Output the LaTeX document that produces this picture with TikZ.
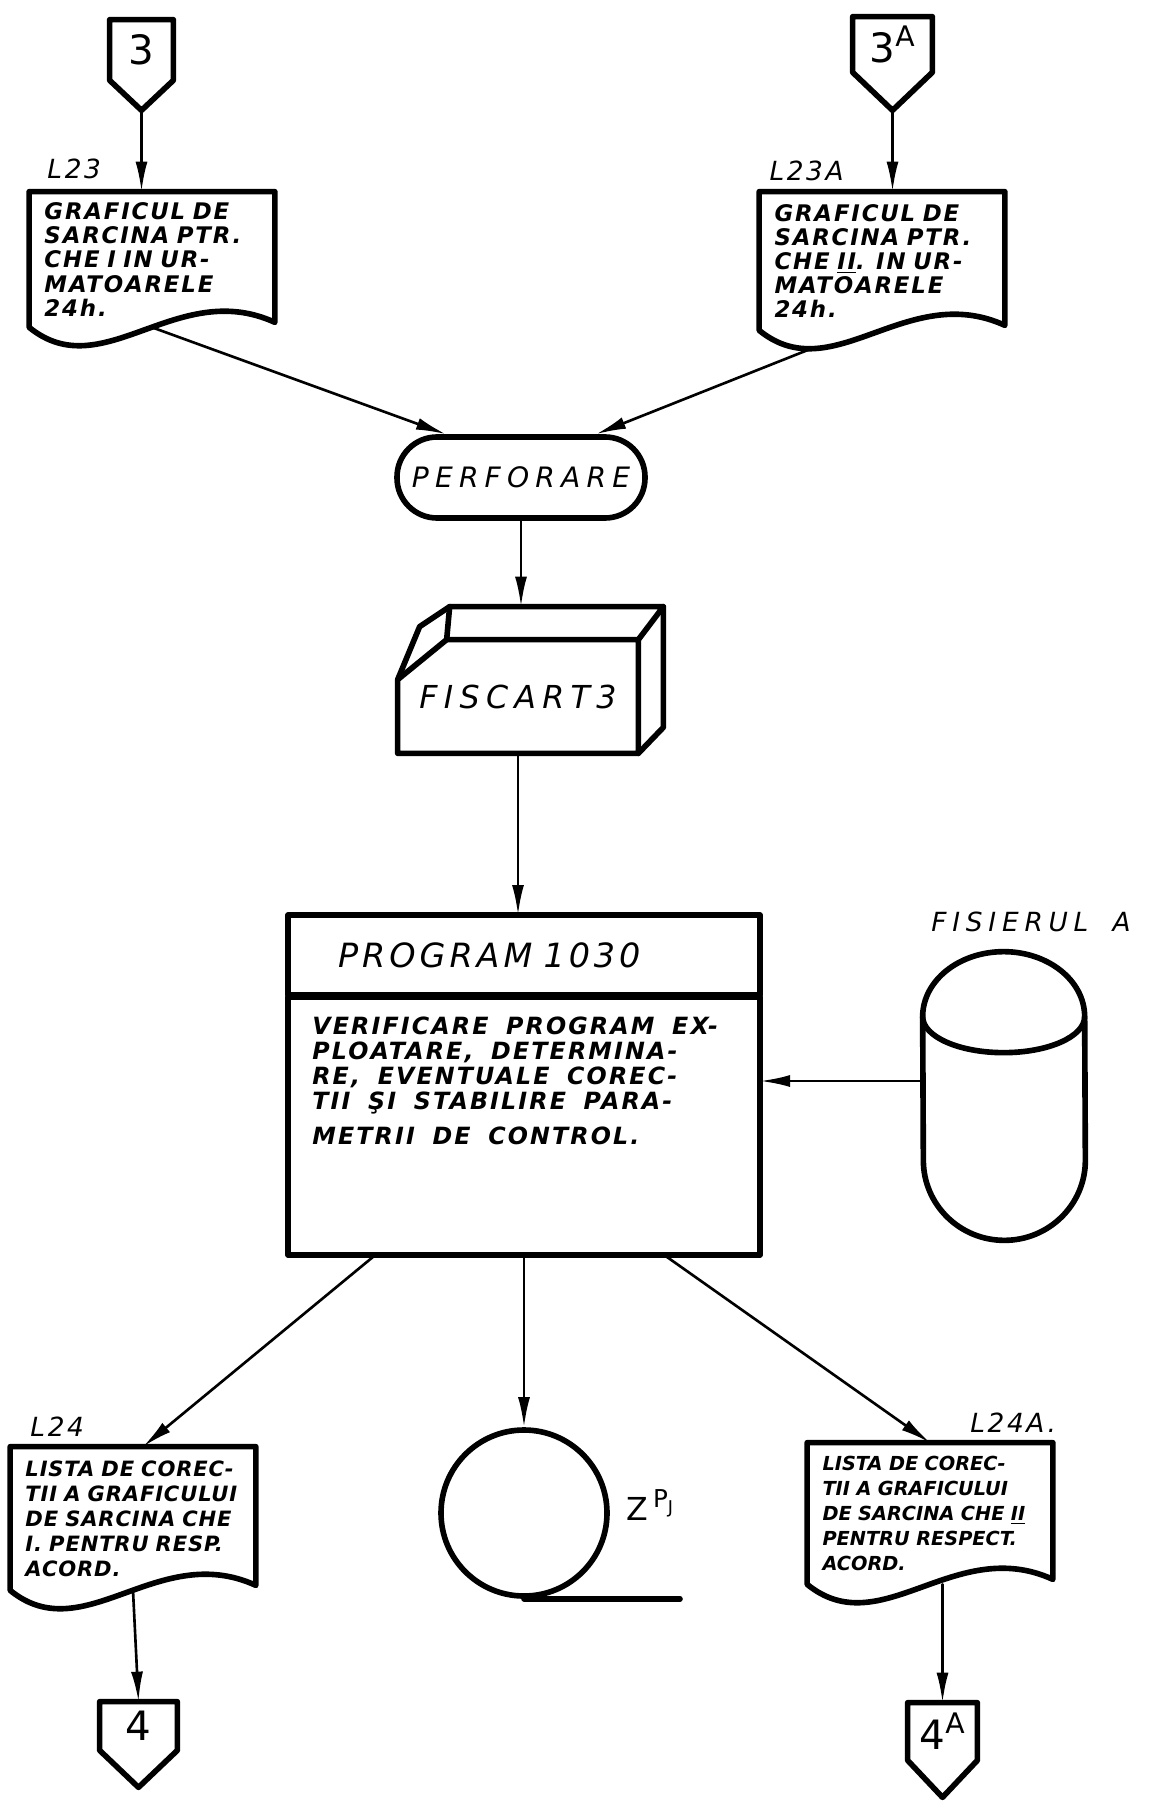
\documentclass[tikz,border=0pt]{standalone}
\usepackage{fontspec}
\newfontfamily\hand{DejaVu Sans}[WordSpace=1.7]
\usetikzlibrary{arrows.meta, calc, positioning}

% slanted lettering: size, baselineskip, letter spacing
\newcommand{\handfont}[3]{\hand\itshape\fontsize{#1}{#2}\selectfont\addfontfeature{LetterSpace=#3}}
% outline of an off-page connector (pentagon pointing down)
\newcommand{\connoutline}[2]{\draw[shapeline] (#1.north west) -- (#1.north east) -- (#1.south east) -- (#2) -- (#1.south west) -- cycle;}
% outline of a document symbol with a wavy bottom
\newcommand{\docoutline}[1]{\draw[shapeline] ($(#1.south east)+(0,-5)$) -- (#1.north east) -- (#1.north west) -- (#1.south west)
    .. controls ($(#1.south west)!0.3!(#1.south east)+(0,60)$) and ($(#1.south west)!0.6!(#1.south east)+(0,-50)$) .. ($(#1.south east)+(0,-5)$) -- cycle;}

\begin{document}
\begin{tikzpicture}[x=0.2mm, y=-0.2mm, line cap=round, line join=round,
    shapeline/.style={line width=3.2pt},
    flow/.style={line width=1.5pt, -{Latex[length=6mm, width=2.4mm]}},
    docbox/.style={minimum height=27mm, text width=43mm, inner xsep=3mm, align=left,
        font=\bfseries\handfont{12}{14.2}{4}},
    topdoc/.style={docbox, font=\bfseries\handfont{13}{13.7}{8}},
    connbox/.style={inner sep=0pt, font=\hand\fontsize{23}{26}\selectfont\addfontfeature{LetterSpace=10}},
    lbl/.style={inner sep=0pt, font=\handfont{15}{17}{10}}]
    \useasboundingbox (0,0) rectangle (1151,1807);

    % input connectors
    \node[connbox, minimum width=12.6mm, minimum height=12mm] (c3) at (141.5,50) {3};
    \coordinate (c3-tip) at ($(c3.south)+(0,30)$);
    \connoutline{c3}{c3-tip}
    \node[connbox, minimum width=15.8mm, minimum height=11mm] (c3a) at (892.5,44.5) {3\textsuperscript{A}};
    \coordinate (c3a-tip) at ($(c3a.south)+(0,38)$);
    \connoutline{c3a}{c3a-tip}

    % load charts
    \node[topdoc, minimum height=27mm] (l23) at (152,259.5) {GRAFICUL DE\\SARCINA PTR.\\CHE I IN UR-\\MATOARELE\\24h.};
    \docoutline{l23}
    \node[topdoc, minimum height=27.6mm] (l23a) at (882,261) {GRAFICUL DE\\SARCINA PTR.\\CHE \underline{II}. IN UR-\\MATOARELE\\24h.};
    \docoutline{l23a}
    \node[lbl, above right=2.4mm and 3.6mm of l23.north west] (l23-name) {L23};
    \node[lbl, above right=2mm and 2mm of l23a.north west] (l23a-name) {L23A};

    % punching
    \node[shapeline, draw, rounded corners=8mm, minimum width=49.6mm, minimum height=16.2mm,
        font=\handfont{16}{18}{22}] (perf) at (521,477.5) {PERFORARE};

    % card deck
    \node[minimum width=48mm, minimum height=22.6mm, font=\handfont{18}{20}{20}] (fis) at (518,696.5) {FISCART3};
    \draw[shapeline] (fis.south west) -- ($(fis.north west)+(0,40)$) -- ($(fis.north west)+(49,0)$) -- (fis.north east) -- (fis.south east) -- cycle;
    \draw[shapeline] ($(fis.north west)+(49,0)$) -- ($(fis.north west)+(52,-33)$) -- ($(fis.north east)+(25,-33)$) -- (fis.north east);
    \draw[shapeline] ($(fis.north east)+(25,-33)$) -- ($(fis.south east)+(25,-26)$) -- (fis.south east);
    \draw[shapeline] ($(fis.north west)+(0,40)$) -- ($(fis.north west)+(22,-13)$) -- ($(fis.north west)+(52,-33)$);

    % program
    \node[shapeline, draw, outer sep=0pt, minimum height=16mm, text width=74.4mm, inner xsep=10mm, align=left,
        font=\handfont{19}{21}{12}] (prog) at (524,955) {PROGRAM 1030};
    \node[shapeline, draw, outer sep=0pt, minimum width=94.4mm, minimum height=51.6mm, below=0.4mm of prog] (progbody) {};
    \node[anchor=north west, inner sep=0pt, align=left, below right=4mm and 4.8mm of progbody.north west,
        font=\bfseries\handfont{13.5}{14.2}{9}] (progdesc)
        {VERIFICARE PROGRAM EX-\\PLOATARE, DETERMINA-\\RE, EVENTUALE COREC-\\TII ŞI STABILIRE PARA-\\[2mm]METRII DE CONTROL.};

    % disk file
    \node[minimum width=32.4mm, minimum height=57.6mm] (file) at (1004,1096) {};
    \draw[shapeline] ($(file.north west)+(0,65)$) arc[start angle=180, end angle=360, x radius=81, y radius=65]
        -- ($(file.south east)+(0,-80)$) arc[start angle=0, end angle=180, x radius=81, y radius=80] -- cycle;
    \draw[shapeline] ($(file.north west)+(0,65)$) arc[start angle=180, end angle=0, x radius=81, y radius=36];
    \node[lbl, above=3.8mm of file.north, xshift=5.4mm, font=\handfont{15}{17}{22}] (file-name) {FISIERUL A};
    \coordinate (file-in) at ($(file.west)+(0,-15)$);

    % tape
    \node[shapeline, draw, circle, minimum size=33.2mm] (tape) at (524,1513) {};
    \draw[shapeline] (tape.south) -- ++(156,0);
    \node[lbl, right=3.2mm of tape.east, yshift=1.6mm, font=\hand\fontsize{18}{20}\selectfont] (tape-name)
        {Z\,\raisebox{0.8ex}{\fontsize{14}{14}\selectfont P\raisebox{-0.5ex}{\fontsize{10}{10}\selectfont J}}};

    % correction lists
    \node[docbox, minimum height=28.6mm] (l24) at (133,1518.5) {LISTA DE COREC-\\TII A GRAFICULUI\\DE SARCINA CHE\\I. PENTRU RESP.\\ACORD.};
    \docoutline{l24}
    \node[docbox, minimum height=28.2mm, font=\bfseries\handfont{11}{14.2}{0}] (l24a) at (930,1513.5) {LISTA DE COREC-\\TII A GRAFICULUI\\DE SARCINA CHE \underline{II}\\PENTRU RESPECT.\\ACORD.};
    \docoutline{l24a}
    \node[lbl, above right=2mm and 4mm of l24.north west] (l24-name) {L24};
    \node[lbl, above right=2mm and 8mm of l24a.north] (l24a-name) {L24A.};

    % output connectors
    \node[connbox, minimum width=15.4mm, minimum height=9.6mm] (c4) at (138.5,1726) {4};
    \coordinate (c4-tip) at ($(c4.south)+(0,37)$);
    \connoutline{c4}{c4-tip}
    \node[connbox, minimum width=13.8mm, minimum height=11.4mm] (c4a) at (942.5,1731.5) {4\textsuperscript{A}};
    \coordinate (c4a-tip) at ($(c4a.south)+(0,37)$);
    \connoutline{c4a}{c4a-tip}

    % flow lines
    \draw[flow] (c3-tip) -- (c3-tip |- l23.north);
    \draw[flow] (c3a-tip) -- (c3a-tip |- l23a.north);
    \draw[flow] (l23.south) -- (perf.150);
    \draw[flow] ($(l23a.south)+(-70,18)$) -- (perf.30);
    \draw[flow] (perf.south) -- ($(perf.south |- fis.north)+(0,-33)$);
    \draw[flow] (fis.south) -- (fis.south |- prog.north);
    \draw[flow] (file-in) -- (file-in -| progbody.east);
    \draw[flow] ($(progbody.south west)!0.185!(progbody.south east)$) -- ($(l24.north)+(10,0)$);
    \draw[flow] (progbody.south) -- (tape.north);
    \draw[flow] ($(progbody.south west)!0.797!(progbody.south east)$) -- (l24a.north);
    \draw[flow] (l24.south) -- (c4.north);
    \draw[flow] (c4a.north |- l24a.south) -- (c4a.north);
\end{tikzpicture}
\end{document}
